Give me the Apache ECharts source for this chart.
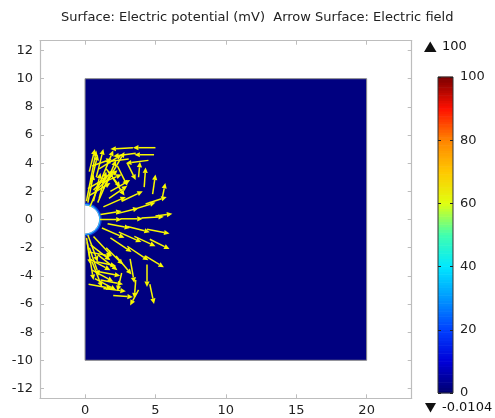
<!DOCTYPE html>
<html><head><meta charset="utf-8">
<script src="https://cdn.jsdelivr.net/npm/echarts@6/dist/echarts.min.js"></script>
<style>html,body{margin:0;padding:0;background:#fff}#c{width:495px;height:418px}</style>
</head><body><div id="c"></div>
<script>
// ---- data ----
const titleText = 'Surface: Electric potential (mV)  Arrow Surface: Electric field';
const xTicks = [0, 5, 10, 15, 20];
const yTicks = [-12, -10, -8, -6, -4, -2, 0, 2, 4, 6, 8, 10, 12];
const xRange = [-3.2, 23.2];
const yRange = [-12.7, 12.7];
const domainRect = [[0, -10, 20, 10]];          // x0, y0, x1, y1
const electrode = [[0, 0, 1]];                   // cx, cy, r
const colorTicks = [0, 20, 40, 60, 80, 100];
const colorMin = 0, colorMax = 100;
const maxLabel = '100';
const minLabel = '-0.0104';
// colormap stops: [value, colour]
const rainbow = [
  [0, '#00006e'], [10, '#0000d8'], [20, '#0040ff'], [30, '#0098ff'],
  [40, '#00e8ff'], [50, '#40ffb0'], [60, '#e0ff10'], [70, '#ffc800'],
  [80, '#ff8400'], [90, '#ff1000'], [100, '#7a0000']
];
// arrows: [xTail, yTail, xHead, yHead]
const arrowsCenter = [
  [1.05, 0.0, 2.6, 0.0], [2.5, 0.05, 4.1, 0.05], [4.0, 0.1, 5.6, 0.2], [5.0, 0.25, 6.2, 0.4]
];
const arrowsUpper = [
  [0.2, 1.2, 0.6, 3.2], [0.4, 2.5, 0.9, 4.6], [0.6, 1.3, 1.1, 3.3], [0.8, 3.0, 1.3, 5.0],
  [0.3, 3.4, 0.7, 5.0], [1.0, 1.5, 1.5, 3.4],
  [0.1, 1.3, 0.8, 4.9], [0.35, 0.9, 2.0, 4.9], [0.6, 2.1, 2.0, 3.5], [0.2, 2.2, 1.6, 3.0],
  [0.3, 1.7, 1.8, 2.6], [0.5, 3.8, 1.9, 4.3], [1.2, 2.6, 2.6, 3.2], [1.8, 2.0, 3.2, 2.8],
  [0.9, 1.2, 2.2, 4.2], [1.3, 2.2, 2.8, 4.8], [0.7, 2.0, 2.3, 3.5], [1.0, 3.6, 2.6, 4.6],
  [3.4, 5.1, 1.8, 5.0], [5.0, 5.1, 3.4, 5.1], [3.6, 4.7, 2.0, 4.5], [4.9, 4.6, 3.5, 4.6],
  [3.1, 4.3, 1.4, 4.1], [4.5, 4.2, 2.9, 4.0],
  [1.5, 3.6, 2.5, 2.3], [2.3, 3.8, 3.0, 2.4], [3.0, 4.0, 3.6, 2.8], [2.0, 2.9, 2.8, 1.7],
  [4.8, 1.8, 5.0, 3.2], [5.5, 1.6, 5.7, 2.6], [4.2, 2.3, 4.3, 3.7], [3.8, 3.0, 3.9, 4.1],
  [1.3, 0.9, 2.9, 1.6], [2.6, 1.3, 4.1, 2.0], [1.7, 1.5, 3.0, 2.4], [3.4, 0.7, 5.0, 1.2],
  [4.3, 1.1, 5.8, 1.6], [2.2, 0.4, 3.8, 0.8], [1.1, 0.35, 2.6, 0.6]
];
const arrowsLower = [
  [1.2, -0.6, 2.8, -1.3], [2.4, -0.9, 4.0, -1.6], [3.5, -1.2, 5.0, -1.9], [4.6, -1.4, 6.0, -2.1],
  [1.8, -1.3, 3.3, -2.3], [3.0, -1.9, 4.5, -2.9], [4.3, -2.6, 5.6, -3.4], [1.6, -0.3, 3.2, -0.6],
  [3.0, -0.5, 4.6, -0.9], [4.4, -0.7, 6.0, -1.0],
  [3.2, -2.8, 3.5, -4.5], [4.4, -3.2, 4.4, -4.8], [4.6, -4.6, 4.9, -6.0], [3.6, -4.3, 3.5, -5.6],
  [3.8, -5.0, 3.2, -6.1], [2.6, -3.8, 2.3, -5.1],
  [1.5, -2.0, 2.7, -3.2], [2.2, -2.6, 3.3, -3.9], [0.9, -2.5, 2.3, -3.6],
  [0.9, -3.7, 2.5, -4.0], [1.1, -4.3, 2.7, -4.6], [1.3, -4.9, 2.9, -5.1], [2.0, -5.4, 3.4, -5.5],
  [0.8, -3.0, 2.2, -3.3],
  [0.2, -1.1, 0.9, -3.0], [0.3, -2.0, 1.0, -4.0], [0.5, -3.0, 1.2, -4.8], [0.15, -1.6, 0.4, -3.2],
  [0.6, -1.2, 1.9, -2.6], [0.4, -1.8, 1.8, -2.9],
  [0.1, -1.3, 0.6, -4.3], [0.3, -2.8, 1.8, -3.6], [0.5, -3.6, 2.0, -4.4], [0.7, -4.2, 2.2, -5.0],
  [0.2, -2.3, 1.9, -2.6], [0.25, -4.6, 1.9, -4.9]
];

// ---- chart ----
const FONT = 'DejaVu Sans';
const TXT = '#222';
const AX = '#bdbdbd';
const YEL = '#f8f800';
const chart = echarts.init(document.getElementById('c'), null, {renderer: 'canvas'});

function arrowItem(params, api) {
  const p0 = api.coord([api.value(0), api.value(1)]);
  const p1 = api.coord([api.value(2), api.value(3)]);
  const dx = p1[0] - p0[0], dy = p1[1] - p0[1];
  const L = Math.sqrt(dx * dx + dy * dy) || 1;
  const ux = dx / L, uy = dy / L;
  const hl = 5.5, hw = 2.6;
  const bx = p1[0] - ux * hl, by = p1[1] - uy * hl;
  return {
    type: 'group',
    children: [
      {type: 'line', shape: {x1: p0[0], y1: p0[1], x2: bx, y2: by},
       style: {stroke: YEL, lineWidth: 1.5}},
      {type: 'polygon', shape: {points: [[p1[0], p1[1]], [bx - uy * hw, by + ux * hw], [bx + uy * hw, by - ux * hw]]},
       style: {fill: YEL}}
    ]
  };
}

// colour-bar segments between colormap stops: [vLow, vHigh]
const colorSegments = rainbow.slice(0, -1).map((s, i) => [s[0], rainbow[i + 1][0]]);
const SUB = 12; // solid sub-slices per segment (rendering smoothness only)

function colorBarItem(params, api) {
  const i = params.dataIndex;
  const v0 = api.value(0), v1 = api.value(1);
  const c0 = rainbow[i][1], c1 = rainbow[i + 1][1];
  const children = [];
  for (let k = 0; k < SUB; k++) {
    const a = v0 + (v1 - v0) * k / SUB, b = v0 + (v1 - v0) * (k + 1) / SUB;
    const pTop = api.coord([0, b]);
    const pBot = api.coord([1, a]);
    children.push({type: 'rect',
      shape: {x: pTop[0], y: pTop[1] - 0.3, width: pBot[0] - pTop[0], height: pBot[1] - pTop[1] + 0.6},
      style: {fill: echarts.color.lerp((k + 0.5) / SUB, [c0, c1])}});
  }
  return {type: 'group', children: children};
}

function frameAxis(extra) {
  return Object.assign({
    type: 'value',
    axisLine: {show: true, onZero: false, lineStyle: {color: AX, width: 1.2}},
    splitLine: {show: false}
  }, extra);
}

const option = {
  animation: false,
  backgroundColor: '#fff',
  textStyle: {fontFamily: FONT},
  title: {text: titleText, left: 56, top: 6,
    textStyle: {fontFamily: FONT, fontSize: 13, fontWeight: 'normal', color: TXT}},
  grid: [
    {left: 40, top: 40.7, width: 371.7, height: 357.6},
    {left: 438, top: 77, width: 15, height: 316}
  ],
  xAxis: [
    frameAxis({gridIndex: 0, min: xRange[0], max: xRange[1], position: 'bottom',
     axisTick: {show: true, inside: true, length: 4, lineStyle: {color: AX}, customValues: xTicks},
     axisLabel: {show: true, margin: 6, fontSize: 13, color: TXT, fontFamily: FONT, customValues: xTicks}}),
    frameAxis({gridIndex: 0, min: xRange[0], max: xRange[1], position: 'top',
     axisTick: {show: true, inside: true, length: 4, lineStyle: {color: AX}, customValues: xTicks},
     axisLabel: {show: false}}),
    {gridIndex: 1, type: 'value', min: 0, max: 1, show: false}
  ],
  yAxis: [
    frameAxis({gridIndex: 0, min: yRange[0], max: yRange[1], position: 'left',
     axisTick: {show: true, inside: true, length: 4, lineStyle: {color: AX}, customValues: yTicks},
     axisLabel: {show: true, margin: 7, fontSize: 13, color: TXT, fontFamily: FONT, customValues: yTicks}}),
    frameAxis({gridIndex: 0, min: yRange[0], max: yRange[1], position: 'right',
     axisTick: {show: true, inside: true, length: 4, lineStyle: {color: AX}, customValues: yTicks},
     axisLabel: {show: false}}),
    {gridIndex: 1, type: 'value', min: colorMin, max: colorMax, position: 'right', z: 20,
     axisLine: {show: false, onZero: false},
     axisTick: {show: true, inside: true, length: 3, lineStyle: {color: '#222'}, customValues: colorTicks},
     axisLabel: {show: true, margin: 7, fontSize: 13, color: TXT, fontFamily: FONT, customValues: colorTicks},
     splitLine: {show: false}},
    {gridIndex: 1, type: 'value', min: colorMin, max: colorMax, position: 'left', z: 20,
     axisLine: {show: false, onZero: false},
     axisTick: {show: true, inside: true, length: 3, lineStyle: {color: '#222'}, customValues: colorTicks},
     axisLabel: {show: false}, splitLine: {show: false}}
  ],
  series: [
    {type: 'custom', xAxisIndex: 0, yAxisIndex: 0, data: domainRect, z: 1,
     renderItem: function (params, api) {
       const a = api.coord([api.value(0), api.value(3)]);
       const b = api.coord([api.value(2), api.value(1)]);
       return {type: 'rect', shape: {x: a[0], y: a[1], width: b[0] - a[0], height: b[1] - a[1]},
         style: {fill: '#000080', stroke: '#8a8a8a', lineWidth: 1}};
     }},
    {type: 'custom', xAxisIndex: 0, yAxisIndex: 0, data: electrode, z: 2,
     renderItem: function (params, api) {
       const c = api.coord([api.value(0), api.value(1)]);
       const r = api.size([api.value(2), 0])[0];
       const s = -Math.PI / 2, e = Math.PI / 2;
       return {type: 'group', children: [
         {type: 'sector', shape: {cx: c[0], cy: c[1], r0: r + 1.2, r: r + 2.6, startAngle: s, endAngle: e},
          style: {fill: '#0a40e0'}},
         {type: 'sector', shape: {cx: c[0], cy: c[1], r0: r, r: r + 1.3, startAngle: s, endAngle: e},
          style: {fill: '#30b8ff'}},
         {type: 'sector', shape: {cx: c[0], cy: c[1], r0: 0, r: r, startAngle: s, endAngle: e},
          style: {fill: '#ffffff'}}
       ]};
     }},
    {type: 'custom', xAxisIndex: 0, yAxisIndex: 0, data: arrowsCenter, z: 3, renderItem: arrowItem},
    {type: 'custom', xAxisIndex: 0, yAxisIndex: 0, data: arrowsUpper, z: 3, renderItem: arrowItem},
    {type: 'custom', xAxisIndex: 0, yAxisIndex: 0, data: arrowsLower, z: 3, renderItem: arrowItem},
    {type: 'custom', xAxisIndex: 2, yAxisIndex: 2, data: colorSegments, z: 10, renderItem: colorBarItem},
    {type: 'custom', xAxisIndex: 2, yAxisIndex: 2, data: [[0, colorMin, 1, colorMax]], z: 11,
     renderItem: function (params, api) {
       const a = api.coord([api.value(0), api.value(3)]);
       const b = api.coord([api.value(2), api.value(1)]);
       return {type: 'rect', shape: {x: a[0], y: a[1], width: b[0] - a[0], height: b[1] - a[1]},
         style: {fill: 'none', stroke: '#333', lineWidth: 1}};
     }}
  ],
  graphic: [
    {type: 'polygon', shape: {points: [[424, 52], [436.5, 52], [430.25, 41.5]]}, style: {fill: '#111'}},
    {type: 'text', left: 442, top: 40, style: {text: maxLabel, font: '13px "DejaVu Sans"', fill: '#111'}},
    {type: 'polygon', shape: {points: [[425, 403], [436, 403], [430.5, 412.5]]}, style: {fill: '#111'}},
    {type: 'text', left: 442, top: 401, style: {text: minLabel, font: '13px "DejaVu Sans"', fill: '#111'}}
  ]
};
chart.setOption(option);
</script></body></html>
